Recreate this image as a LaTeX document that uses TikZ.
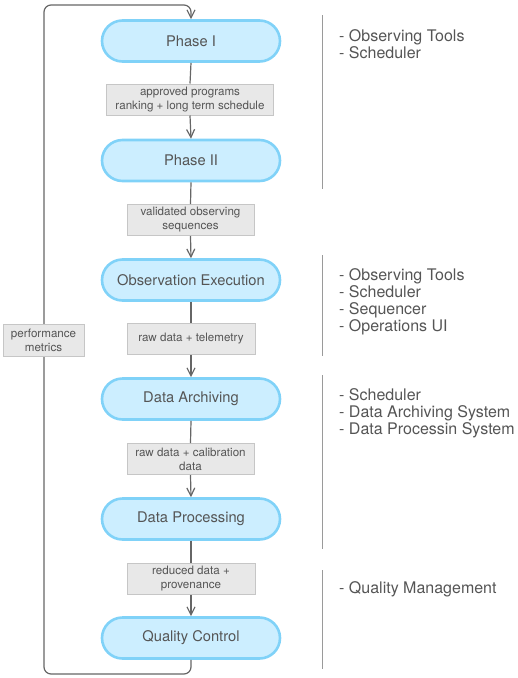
\documentclass[tikz,border=0pt]{standalone}
\usepackage{fontspec}
\setmainfont{TeX Gyre Heros}
\usetikzlibrary{arrows.meta,shapes.misc}
\definecolor{txt}{HTML}{555555}
\definecolor{lin}{HTML}{666666}
\definecolor{nfill}{HTML}{CCEEFF}
\definecolor{nbord}{HTML}{80D2F8}
\definecolor{lfill}{HTML}{E8E8E8}
\definecolor{lbord}{HTML}{C6C6C6}
\definecolor{side}{HTML}{9A9A9A}
\tikzset{
  phase/.style={rounded rectangle, draw=nbord, line width=2.6pt, fill=nfill,
    minimum width=178pt, minimum height=41pt, text=txt,
    font=\fontsize{14.7}{16}\selectfont, inner sep=0pt},
  lbl/.style={draw=lbord, line width=1pt, fill=lfill, text=txt, align=center,
    font=\fontsize{11.6}{14}\selectfont, inner sep=0pt, minimum height=31pt},
  conn/.style={draw=lin, line width=1.2pt},
  arr/.style={conn, -{Straight Barb[length=8pt,width=8pt,line width=1.2pt]}},
  sidel/.style={draw=side, line width=1pt},
  sidet/.style={anchor=north west, text=txt, align=left,
    font=\fontsize{16}{17}\selectfont, inner sep=0pt}
}
\begin{document}
\begin{tikzpicture}[x=1pt,y=-1pt]
\useasboundingbox (0,0) rectangle (518,678);
% phases
\node[phase] (p1) at (191,41) {Phase I};
\node[phase] (p2) at (191,160.5) {Phase II};
\node[phase] (p3) at (191,280) {Observation Execution};
\node[phase] (p4) at (191,399) {Data Archiving};
\node[phase] (p5) at (191,519) {Data Processing};
\node[phase] (p6) at (191,638) {Quality Control};
% labels
\node[lbl, minimum width=167pt] (l1) at (190,99.5) {approved programs\\ranking + long term schedule};
\node[lbl, minimum width=127pt] (l2) at (190.5,220) {validated observing\\sequences};
\node[lbl, minimum width=128pt] (l3) at (191,339) {raw data + telemetry};
\node[lbl, minimum width=127pt] (l4) at (190.5,459) {raw data + calibration\\data};
\node[lbl, minimum width=128pt] (l5) at (191,579) {reduced data +\\provenance};
% connectors
\draw[conn] (p1.south) -- (l1.north);
\draw[arr] (l1.south) -- (p2.north);
\draw[conn] (p2.south) -- (l2.north);
\draw[arr] (l2.south) -- (p3.north);
\draw[conn] (p3.south) -- (l3.north);
\draw[arr] (l3.south) -- (p4.north);
\draw[conn] (p4.south) -- (l4.north);
\draw[arr] (l4.south) -- (p5.north);
\draw[conn] (p5.south) -- (l5.north);
\draw[arr] (l5.south) -- (p6.north);
% feedback loop
\coordinate (cbl) at (44,674);
\coordinate (ctl) at (44,5);
\draw[arr, rounded corners=7pt] (p6.south) -- (p6.south |- cbl) -- (cbl) -- (ctl) -- (p1.north |- ctl) -- (p1.north);
\node[lbl, minimum width=81pt, minimum height=32pt] (pm) at (43.5,340) {performance\\metrics};
% side annotations
\draw[sidel] (322,15) -- (322,189);
\draw[sidel] (322,255) -- (322,356);
\draw[sidel] (322,375) -- (322,549);
\draw[sidel] (322,570) -- (322,669);
\node[sidet] (s1) at (339,29.5) {- Observing Tools\\- Scheduler};
\node[sidet] (s2) at (339,268.5) {- Observing Tools\\- Scheduler\\- Sequencer\\- Operations UI};
\node[sidet] (s3) at (339,388.5) {- Scheduler\\- Data Archiving System\\- Data Processin System};
\node[sidet] (s4) at (339,581.5) {- Quality Management};
\end{tikzpicture}
\end{document}
